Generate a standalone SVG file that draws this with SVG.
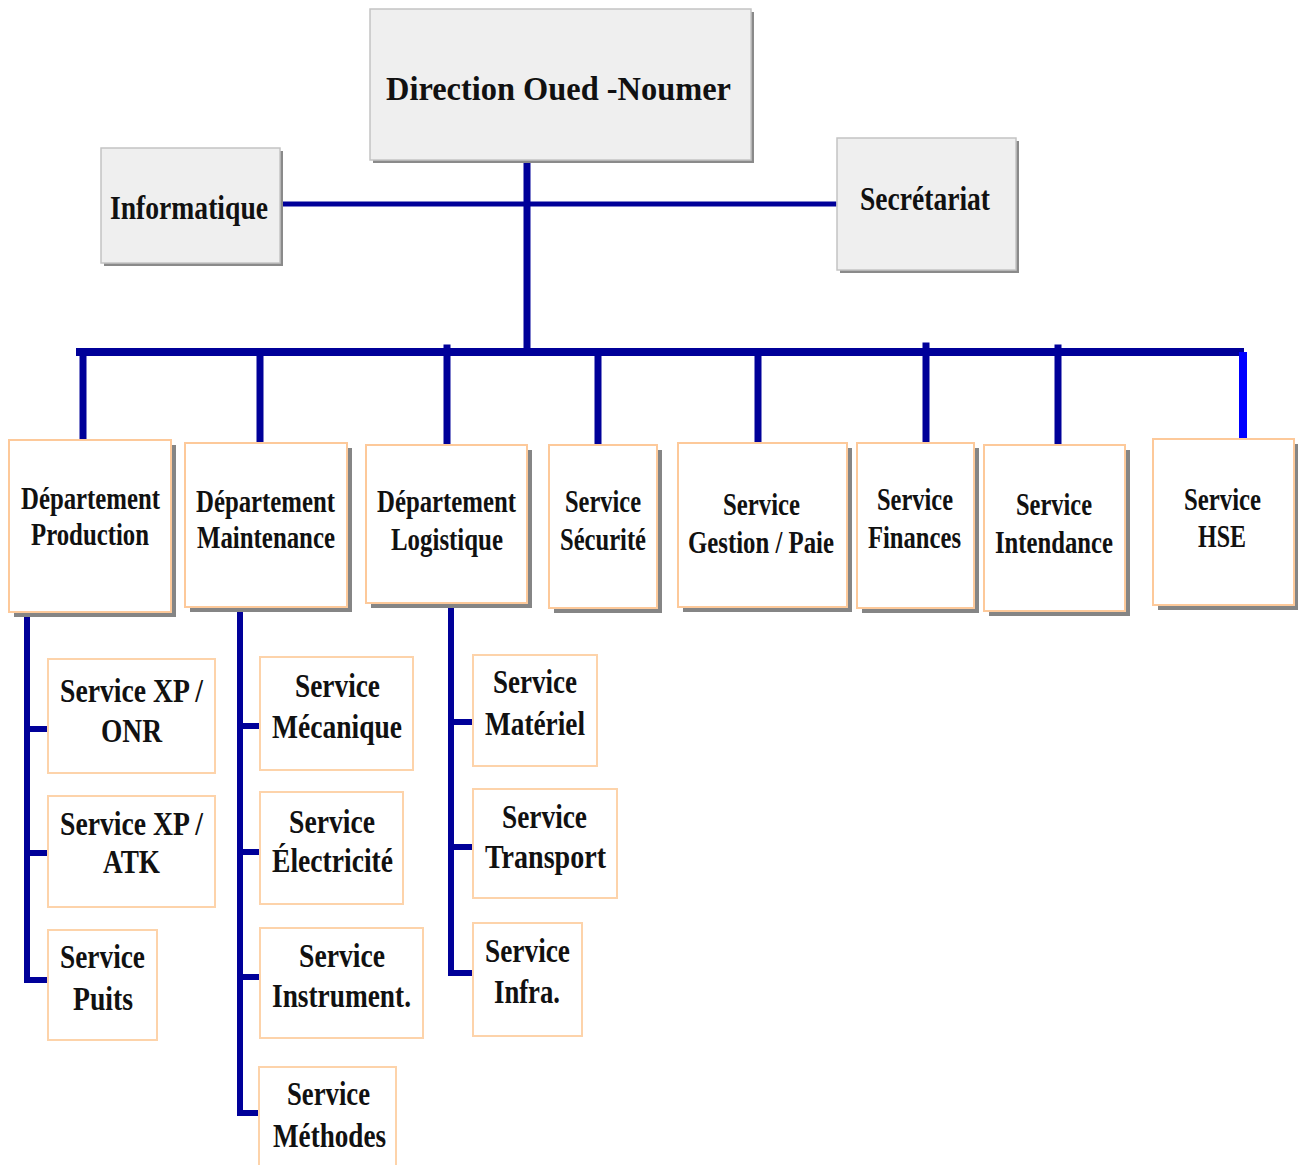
<svg xmlns="http://www.w3.org/2000/svg" width="1298" height="1165" viewBox="0 0 1298 1165">
<style>
text{font-family:"Liberation Serif","Times New Roman",serif;font-weight:bold;fill:#111}
.top{fill:#efefef;stroke:#c4c4c4;stroke-width:1.5}
.tsh{fill:#8a8a8a}
.dep{fill:#fff;stroke:#fdc99a;stroke-width:2}
.dsh{fill:#858585}
.sub{fill:#fff;stroke:#fdd3aa;stroke-width:2}
.c{stroke:#000099;fill:none;stroke-linecap:square}
.t1{font-size:33px}
.t2{font-size:31px}
.t3{font-size:34px}
</style>
<rect width="1298" height="1165" fill="#fff"/>
<g id="connectors">
  <path class="c" d="M527 160V351" stroke-width="7"/>
  <path class="c" d="M283 204H834" stroke-width="5"/>
  <path class="c" d="M80 352H1240" stroke-width="8"/>
  <path class="c" d="M83 352V440M260 352V443M447 348V445M598 352V445M758 352V443M926 346V443M1058 348V445" stroke-width="7"/>
  <path d="M1243 352V439" stroke="#0000ff" stroke-width="8" fill="none"/>
  <path class="c" d="M27 612V980H48M27 729H48M27 853H48" stroke-width="6"/>
  <path class="c" d="M240 607V1113H259M240 726H260M240 852H260M240 977H260" stroke-width="6"/>
  <path class="c" d="M451 603V973H473M451 722H473M451 847H473" stroke-width="6"/>
</g>
<g id="direction">
  <rect class="tsh" x="373" y="12" width="381" height="151"/>
  <rect class="top" x="370" y="9" width="381" height="151"/>
  <text class="t1" x="386" y="100" textLength="345" lengthAdjust="spacingAndGlyphs">Direction Oued -Noumer</text>
</g>
<g id="informatique">
  <rect class="tsh" x="104" y="151" width="179" height="115"/>
  <rect class="top" x="101" y="148" width="179" height="115"/>
  <text class="t1" x="110" y="219" textLength="158" lengthAdjust="spacingAndGlyphs">Informatique</text>
</g>
<g id="secretariat">
  <rect class="tsh" x="840" y="141" width="179" height="132"/>
  <rect class="top" x="837" y="138" width="179" height="132"/>
  <text class="t1" x="860" y="210" textLength="130" lengthAdjust="spacingAndGlyphs">Secrétariat</text>
</g>
<g id="dep-production">
  <rect class="dsh" x="14" y="445" width="162" height="172"/>
  <rect class="dep" x="9" y="440" width="162" height="172"/>
  <text class="t2" x="21" y="509" textLength="139" lengthAdjust="spacingAndGlyphs">Département</text>
  <text class="t2" x="31" y="545" textLength="118" lengthAdjust="spacingAndGlyphs">Production</text>
</g>
<g id="dep-maintenance">
  <rect class="dsh" x="190" y="448" width="162" height="164"/>
  <rect class="dep" x="185" y="443" width="162" height="164"/>
  <text class="t2" x="196" y="512" textLength="139" lengthAdjust="spacingAndGlyphs">Département</text>
  <text class="t2" x="197" y="548" textLength="138" lengthAdjust="spacingAndGlyphs">Maintenance</text>
</g>
<g id="dep-logistique">
  <rect class="dsh" x="371" y="450" width="161" height="158"/>
  <rect class="dep" x="366" y="445" width="161" height="158"/>
  <text class="t2" x="377" y="512" textLength="139" lengthAdjust="spacingAndGlyphs">Département</text>
  <text class="t2" x="391" y="550" textLength="112" lengthAdjust="spacingAndGlyphs">Logistique</text>
</g>
<g id="svc-securite">
  <rect class="dsh" x="554" y="450" width="108" height="163"/>
  <rect class="dep" x="549" y="445" width="108" height="163"/>
  <text class="t2" x="565" y="512" textLength="76" lengthAdjust="spacingAndGlyphs">Service</text>
  <text class="t2" x="560" y="550" textLength="86" lengthAdjust="spacingAndGlyphs">Sécurité</text>
</g>
<g id="svc-gestion">
  <rect class="dsh" x="683" y="448" width="169" height="164"/>
  <rect class="dep" x="678" y="443" width="169" height="164"/>
  <text class="t2" x="723" y="515" textLength="77" lengthAdjust="spacingAndGlyphs">Service</text>
  <text class="t2" x="688" y="553" textLength="146" lengthAdjust="spacingAndGlyphs">Gestion / Paie</text>
</g>
<g id="svc-finances">
  <rect class="dsh" x="862" y="448" width="117" height="165"/>
  <rect class="dep" x="857" y="443" width="117" height="165"/>
  <text class="t2" x="877" y="510" textLength="76" lengthAdjust="spacingAndGlyphs">Service</text>
  <text class="t2" x="868" y="548" textLength="93" lengthAdjust="spacingAndGlyphs">Finances</text>
</g>
<g id="svc-intendance">
  <rect class="dsh" x="989" y="450" width="141" height="166"/>
  <rect class="dep" x="984" y="445" width="141" height="166"/>
  <text class="t2" x="1016" y="515" textLength="76" lengthAdjust="spacingAndGlyphs">Service</text>
  <text class="t2" x="995" y="553" textLength="118" lengthAdjust="spacingAndGlyphs">Intendance</text>
</g>
<g id="svc-hse">
  <rect class="dsh" x="1158" y="444" width="141" height="166"/>
  <rect class="dep" x="1153" y="439" width="141" height="166"/>
  <text class="t2" x="1184" y="510" textLength="77" lengthAdjust="spacingAndGlyphs">Service</text>
  <text class="t2" x="1198" y="547" textLength="48" lengthAdjust="spacingAndGlyphs">HSE</text>
</g>
<g id="svc-xp-onr">
  <rect class="sub" x="48" y="659" width="167" height="114"/>
  <text class="t3" x="60" y="702" textLength="143" lengthAdjust="spacingAndGlyphs">Service XP /</text>
  <text class="t3" x="101" y="742" textLength="61" lengthAdjust="spacingAndGlyphs">ONR</text>
</g>
<g id="svc-xp-atk">
  <rect class="sub" x="48" y="796" width="167" height="111"/>
  <text class="t3" x="60" y="835" textLength="143" lengthAdjust="spacingAndGlyphs">Service XP /</text>
  <text class="t3" x="103" y="873" textLength="57" lengthAdjust="spacingAndGlyphs">ATK</text>
</g>
<g id="svc-puits">
  <rect class="sub" x="48" y="930" width="109" height="110"/>
  <text class="t3" x="60" y="968" textLength="85" lengthAdjust="spacingAndGlyphs">Service</text>
  <text class="t3" x="73" y="1010" textLength="60" lengthAdjust="spacingAndGlyphs">Puits</text>
</g>
<g id="svc-mecanique">
  <rect class="sub" x="260" y="657" width="153" height="113"/>
  <text class="t3" x="295" y="697" textLength="85" lengthAdjust="spacingAndGlyphs">Service</text>
  <text class="t3" x="272" y="738" textLength="130" lengthAdjust="spacingAndGlyphs">Mécanique</text>
</g>
<g id="svc-electricite">
  <rect class="sub" x="260" y="792" width="143" height="112"/>
  <text class="t3" x="289" y="833" textLength="86" lengthAdjust="spacingAndGlyphs">Service</text>
  <text class="t3" x="272" y="872" textLength="121" lengthAdjust="spacingAndGlyphs">Électricité</text>
</g>
<g id="svc-instrument">
  <rect class="sub" x="260" y="928" width="163" height="110"/>
  <text class="t3" x="299" y="967" textLength="86" lengthAdjust="spacingAndGlyphs">Service</text>
  <text class="t3" x="272" y="1007" textLength="139" lengthAdjust="spacingAndGlyphs">Instrument.</text>
</g>
<g id="svc-methodes">
  <rect class="sub" x="259" y="1067" width="137" height="110"/>
  <text class="t3" x="287" y="1105" textLength="83" lengthAdjust="spacingAndGlyphs">Service</text>
  <text class="t3" x="273" y="1147" textLength="113" lengthAdjust="spacingAndGlyphs">Méthodes</text>
</g>
<g id="svc-materiel">
  <rect class="sub" x="473" y="655" width="124" height="111"/>
  <text class="t3" x="493" y="693" textLength="84" lengthAdjust="spacingAndGlyphs">Service</text>
  <text class="t3" x="485" y="735" textLength="100" lengthAdjust="spacingAndGlyphs">Matériel</text>
</g>
<g id="svc-transport">
  <rect class="sub" x="473" y="789" width="144" height="109"/>
  <text class="t3" x="502" y="828" textLength="85" lengthAdjust="spacingAndGlyphs">Service</text>
  <text class="t3" x="485" y="868" textLength="121" lengthAdjust="spacingAndGlyphs">Transport</text>
</g>
<g id="svc-infra">
  <rect class="sub" x="473" y="923" width="109" height="113"/>
  <text class="t3" x="485" y="962" textLength="85" lengthAdjust="spacingAndGlyphs">Service</text>
  <text class="t3" x="494" y="1003" textLength="66" lengthAdjust="spacingAndGlyphs">Infra.</text>
</g>
</svg>
